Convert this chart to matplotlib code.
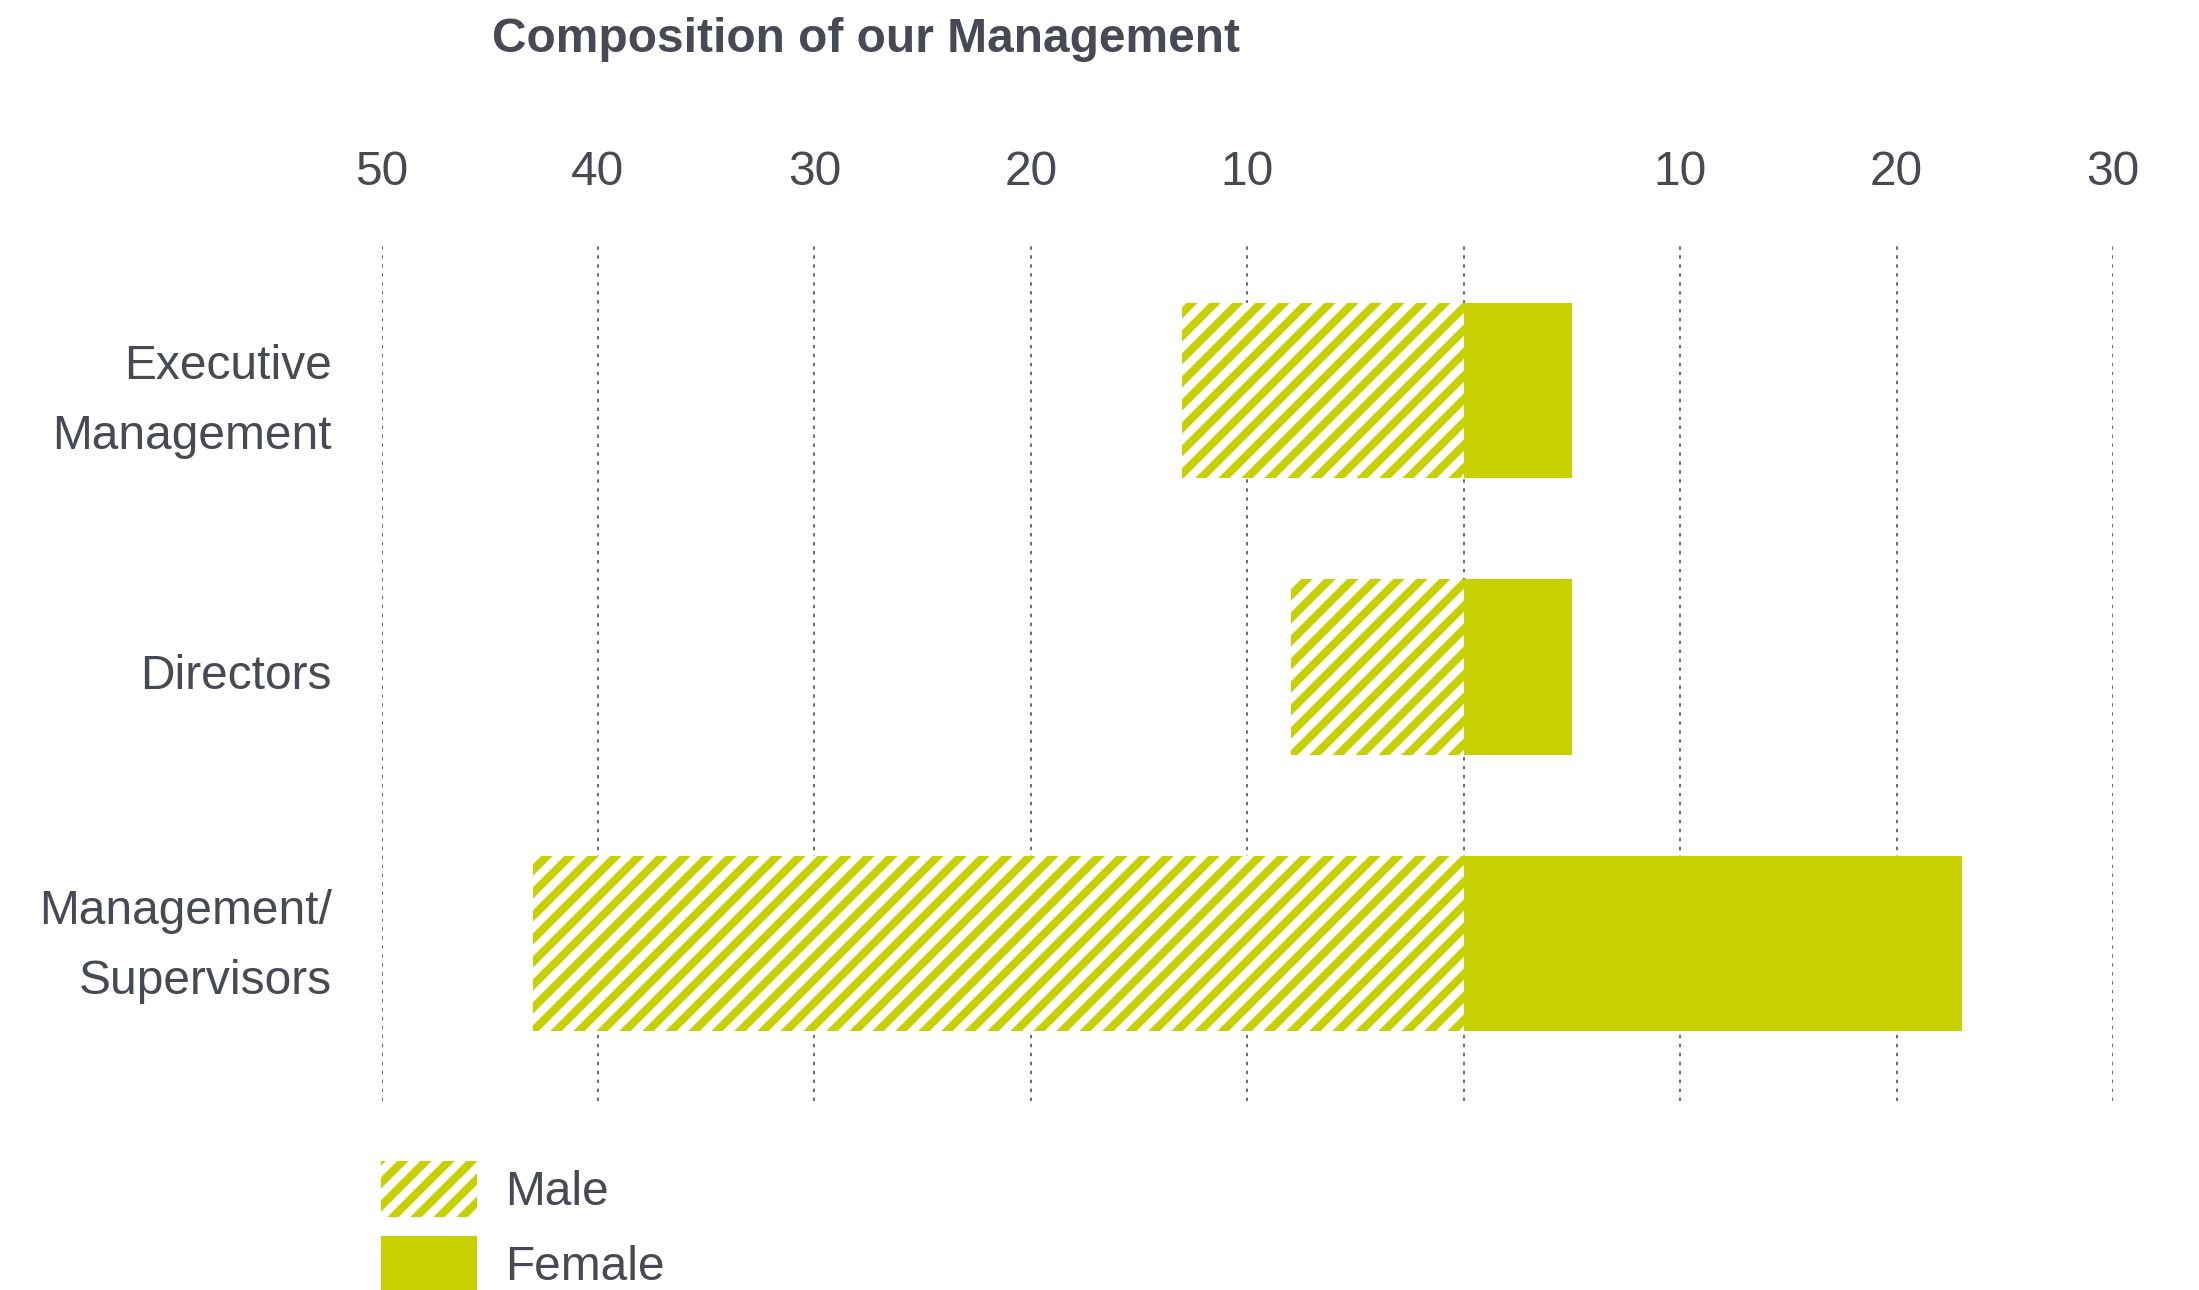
import matplotlib
matplotlib.use("Agg")
import matplotlib.pyplot as plt
import matplotlib.transforms as mtransforms
from matplotlib.patches import Patch
import numpy as np

categories = ["Executive\nManagement", "Directors", "Management/\nSupervisors"]
male = [13, 8, 43]
female = [5, 5, 23]
xticks = [-50, -40, -30, -20, -10, 0, 10, 20, 30]
xtick_labels = ["50", "40", "30", "20", "10", "", "10", "20", "30"]

YELLOW = "#c8d100"
TEXT = "#454a54"
DPI = 138

plt.rcParams["font.family"] = ["Liberation Sans", "DejaVu Sans"]
plt.rcParams["hatch.linewidth"] = 4.2
plt.rcParams["hatch.color"] = YELLOW

fig = plt.figure(figsize=(2199 / DPI, 1290 / DPI), dpi=DPI)
ax = fig.add_axes([0.1735, 0.1465, 0.7874, 0.6667])

y = np.arange(len(categories))
ax.barh(y, [-m for m in male], height=0.634, color="white", edgecolor=YELLOW,
        hatch="//", linewidth=0, zorder=3)
ax.barh(y, female, height=0.634, color=YELLOW, linewidth=0, zorder=3)

ax.set_xlim(-50, 30)
ax.set_ylim(2.572, -0.543)
ax.set_xticks(xticks)
ax.set_xticklabels(xtick_labels)
ax.xaxis.tick_top()
ax.tick_params(axis="x", length=0, pad=24, labelsize=25, labelcolor=TEXT)
ax.set_yticks(y)
ax.set_yticklabels(categories, linespacing=1.72)
ax.tick_params(axis="y", length=0, pad=26, labelsize=25, labelcolor=TEXT)
# fine vertical alignment of the category labels (points)
label_shift_pt = [3.6, -2.2, 7.3]
for lab, dy in zip(ax.get_yticklabels(), label_shift_pt):
    lab.set_transform(lab.get_transform() +
                      mtransforms.ScaledTranslation(0, dy / 72, fig.dpi_scale_trans))
for s in ax.spines.values():
    s.set_visible(False)
ax.grid(axis="x", color="#4a4f57", linestyle=(0, (2.1, 3.4)), linewidth=0.85, zorder=0)
ax.grid(axis="y", visible=False)

fig.text(0.394, 0.969, "Composition of our Management", ha="center", va="center",
         fontsize=25, fontweight="bold", color=TEXT)

handles = [Patch(facecolor="white", edgecolor=YELLOW, hatch="//", linewidth=0),
           Patch(facecolor=YELLOW, linewidth=0)]
leg = fig.legend(handles, ["Male", "Female"], loc="upper left",
                 bbox_to_anchor=(381 / 2199, 1 - 1161 / 1290), frameon=False,
                 fontsize=25, handlelength=2.0, handleheight=1.42,
                 handletextpad=0.6, labelspacing=0.4, borderaxespad=0,
                 borderpad=0)
for t in leg.get_texts():
    t.set_color(TEXT)

fig.savefig("out.png", dpi=DPI)
